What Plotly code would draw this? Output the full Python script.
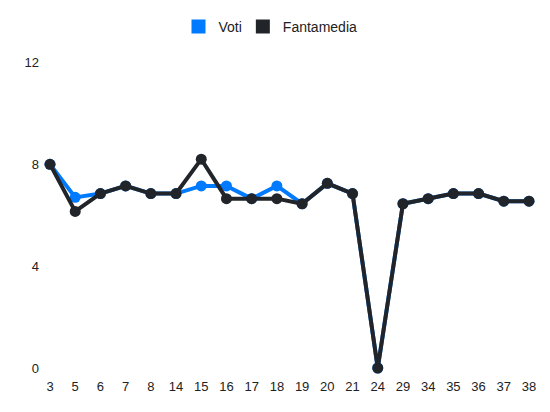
import plotly.graph_objects as go

# giornate and ratings
giornate = ["3", "5", "6", "7", "8", "14", "15", "16", "17", "18",
            "19", "20", "21", "24", "29", "34", "35", "36", "37", "38"]
voti = [8, 6.7, 6.85, 7.15, 6.85, 6.85, 7.15, 7.15, 6.65, 7.15,
        6.45, 7.25, 6.85, 0, 6.45, 6.65, 6.85, 6.85, 6.55, 6.55]
fantamedia = [8, 6.15, 6.85, 7.15, 6.85, 6.85, 8.2, 6.65, 6.65, 6.65,
              6.45, 7.25, 6.85, 0, 6.45, 6.65, 6.85, 6.85, 6.55, 6.55]

blue = "#007BFF"
dark = "#212529"

fig = go.Figure()

series = [("Voti", voti, blue, "legend"), ("Fantamedia", fantamedia, dark, "legend2")]
for name, vals, col, leg in series:
    fig.add_trace(go.Scatter(
        x=giornate, y=vals, mode="lines+markers", name=name,
        line=dict(color=col, width=4),
        marker=dict(color=col, size=11),
        cliponaxis=False, showlegend=False))
    # square legend swatch
    fig.add_trace(go.Scatter(
        x=[None], y=[None], mode="markers", name=name, legend=leg,
        marker=dict(color=col, symbol="square", size=14)))

leg_common = dict(orientation="h", xref="container", yref="container",
                  xanchor="left", y=0.954, yanchor="middle",
                  font=dict(size=14), itemwidth=30, bgcolor="rgba(0,0,0,0)")

# page body adds 8px, margins account for it
fig.update_layout(
    width=550, height=412,
    margin=dict(l=42, r=29, t=51, b=52),
    paper_bgcolor="white", plot_bgcolor="white",
    font=dict(family="Liberation Sans, Arial, sans-serif", size=13, color="#222"),
    legend=dict(x=0.31, **leg_common),
    legend2=dict(x=0.427, **leg_common),
)
fig.update_xaxes(type="category", range=[0, 19], showgrid=False, zeroline=False,
                 showline=False, ticks="", ticklabelstandoff=9)
fig.update_yaxes(range=[0, 12], tickvals=[0, 4, 8, 12], showgrid=False,
                 zeroline=False, showline=False, ticks="", ticklabelstandoff=10)

fig.write_html("out.html")
